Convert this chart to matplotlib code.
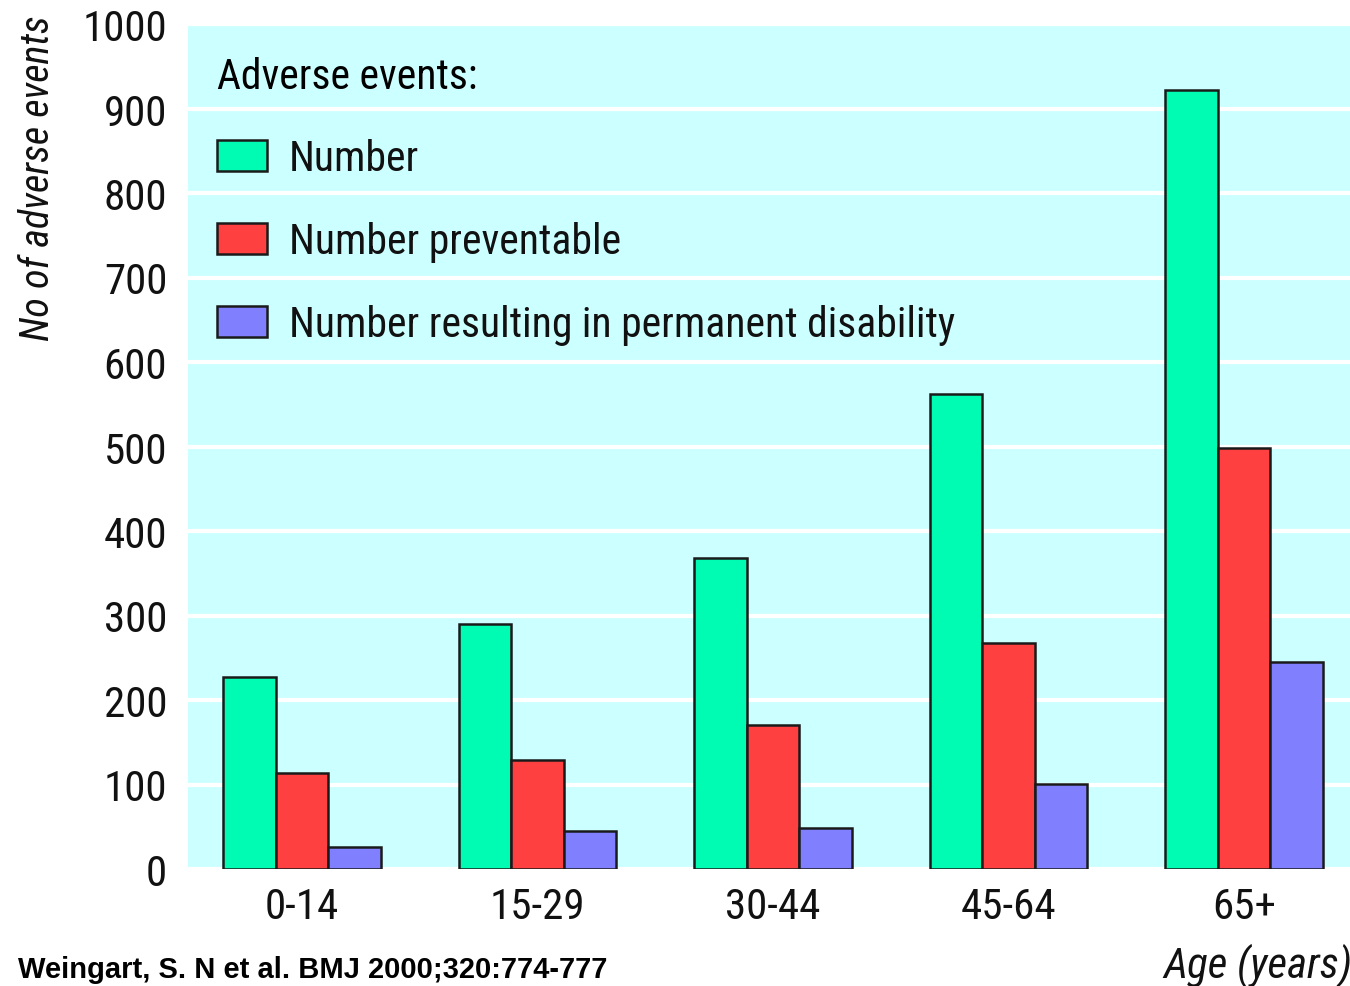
import matplotlib
matplotlib.use("Agg")
import matplotlib.pyplot as plt
import numpy as np

# Adverse events by age group
age_groups = ["0-14", "15-29", "30-44", "45-64", "65+"]
number = [227, 290, 368, 562, 922]
preventable = [114, 129, 170, 268, 498]
disability = [26, 45, 48, 101, 245]

series_labels = ["Number", "Number preventable",
                 "Number resulting in permanent disability"]
series_colors = ["#00fbb2", "#ff4040", "#8080ff"]

yticks = list(range(0, 1001, 100))

plt.rcParams["font.family"] = ["Roboto Condensed", "DejaVu Sans"]

fig = plt.figure(figsize=(13.5, 9.87), dpi=100)
ax = fig.add_axes([188 / 1350, 117 / 987, 1 - 188 / 1350, 845 / 987])
ax.set_facecolor("#ccffff")

x = np.arange(len(age_groups))
w = 0.223
for i, (vals, lab, col) in enumerate(zip([number, preventable, disability],
                                         series_labels, series_colors)):
    ax.bar(x + (i - 1) * w, vals, width=w, color=col, edgecolor="#1a1a1a",
           linewidth=1.8, label=lab, zorder=3)

ax.set_xlim(-0.484, 4.45)
ax.set_ylim(0, 1000)
ax.set_yticks(yticks)
ax.set_xticks(x)
ax.set_xticklabels(age_groups)
ax.tick_params(length=0, labelsize=31, colors="#111111")
ax.tick_params(axis="y", pad=15)
ax.tick_params(axis="x", pad=12)
ax.grid(axis="y", color="white", linewidth=3)
ax.set_axisbelow(True)
for s in ax.spines.values():
    s.set_visible(False)

ax.set_ylabel("No of adverse events", fontsize=29, style="italic",
              color="#111111")
ax.yaxis.set_label_coords(-0.113, 0.819)

# legend with a left-aligned heading
leg = ax.legend(title="Adverse events:", loc="upper left",
                bbox_to_anchor=(0.0, 0.997), frameon=False, fontsize=30,
                title_fontsize=30, alignment="left", handlelength=1.2,
                handleheight=0.77, handletextpad=0.53, labelspacing=1.0,
                borderpad=0.2)
for t in leg.get_texts():
    t.set_color("#111111")

fig.text(1.002, 0.022, "Age (years)", ha="right", va="center",
         fontsize=31, style="italic", color="#111111")
fig.text(18 / 1350, 0.017, "Weingart, S. N et al. BMJ 2000;320:774-777",
         ha="left", va="center", fontsize=21, fontweight="bold",
         family=["Liberation Sans", "DejaVu Sans"])

fig.savefig("out.png", dpi=100)
